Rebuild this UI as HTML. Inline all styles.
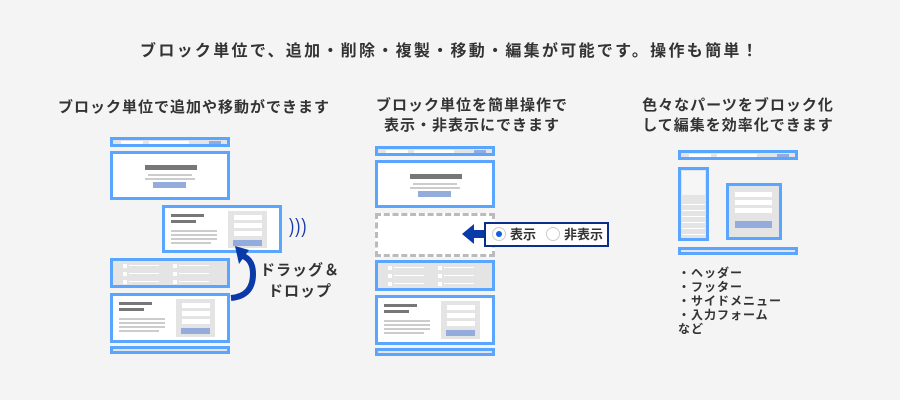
<!DOCTYPE html><html><head><meta charset="utf-8"><style>
*{margin:0;padding:0;box-sizing:border-box}
body{width:900px;height:400px;background:#f4f4f4;position:relative;overflow:hidden;font-family:"Liberation Sans","Noto Sans CJK JP",sans-serif;color:#333}
.a{position:absolute}
.t{font-weight:bold;font-size:15px;text-align:center;letter-spacing:1px}
.b{position:absolute;border:3px solid #5aa5ff;background:#fff}
.g{background:#e4e4e4}
.bar{position:absolute;height:3px;background:#ccc}
.dk{position:absolute;height:4px;background:#777}
.bl{position:absolute;background:#94acdc;height:6px}
.w{position:absolute;background:#fff;height:5px}
</style></head><body>
<div class="a t" style="left:0;width:900px;top:37px;font-size:16px;letter-spacing:2.3px">ブロック単位で、追加・削除・複製・移動・編集が可能です。操作も簡単！</div>
<div class="a t" style="left:44px;width:300px;top:96px">ブロック単位で追加や移動ができます</div>
<div class="a t" style="left:352px;width:240px;top:96px;line-height:20px">ブロック単位を簡単操作で<br>表示・非表示にできます</div>
<div class="a t" style="left:618px;width:240px;top:96px;line-height:20px">色々なパーツをブロック化<br>して編集を効率化できます</div>

<!-- left column -->
<div class="b g" style="left:110px;top:137px;width:120px;height:10px"><div class="w" style="left:8px;top:1px;width:22px;height:3px"></div><div class="w" style="left:36px;top:1px;width:40px;height:3px"></div><div class="bl" style="left:96px;top:1px;width:12px;height:3px"></div></div>
<div class="b" style="left:110px;top:151px;width:120px;height:49px"><div class="dk" style="left:32px;top:11px;width:52px;height:5px"></div><div class="bar" style="left:35px;top:20px;width:44px;height:2px"></div><div class="bar" style="left:32px;top:24px;width:50px;height:2px"></div><div class="bl" style="left:40px;top:28px;width:33px"></div></div>
<div class="b" style="left:162px;top:205px;width:120px;height:48px"><div class="dk" style="left:6px;top:6px;width:33px;height:3px"></div><div class="dk" style="left:6px;top:12px;width:25px;height:3px"></div><div class="bar" style="left:6px;top:22px;width:46px;height:2px"></div><div class="bar" style="left:6px;top:26px;width:46px;height:2px"></div><div class="bar" style="left:6px;top:30px;width:46px;height:2px"></div><div class="bar" style="left:6px;top:34px;width:40px;height:2px"></div><div class="a g" style="left:63px;top:3px;width:39px;height:37px"><div class="w" style="left:6px;top:4px;width:28px"></div><div class="w" style="left:6px;top:12px;width:28px"></div><div class="w" style="left:6px;top:20px;width:28px"></div><div class="bl" style="left:5px;top:29px;width:29px"></div></div></div>
<div class="a" style="left:289px;top:216px;font-size:20px;color:#1a3aa8;letter-spacing:1px;transform:scaleX(0.8);transform-origin:left">)))</div>
<div class="b g" style="left:110px;top:258px;width:120px;height:30px"><div class="a" style="left:10px;top:3px;width:4px;height:20px;background:repeating-linear-gradient(#fff 0 4px,transparent 4px 8px)"></div><div class="a" style="left:16px;top:4px;width:30px;height:18px;background:repeating-linear-gradient(#fff 0 1px,transparent 1px 8px)"></div><div class="a" style="left:60px;top:3px;width:4px;height:20px;background:repeating-linear-gradient(#fff 0 4px,transparent 4px 8px)"></div><div class="a" style="left:66px;top:4px;width:30px;height:18px;background:repeating-linear-gradient(#fff 0 1px,transparent 1px 8px)"></div></div>
<div class="b" style="left:110px;top:293px;width:120px;height:50px"><div class="dk" style="left:6px;top:6px;width:33px;height:3px"></div><div class="dk" style="left:6px;top:12px;width:25px;height:3px"></div><div class="bar" style="left:6px;top:22px;width:46px;height:2px"></div><div class="bar" style="left:6px;top:26px;width:46px;height:2px"></div><div class="bar" style="left:6px;top:30px;width:46px;height:2px"></div><div class="bar" style="left:6px;top:34px;width:40px;height:2px"></div><div class="a g" style="left:63px;top:3px;width:39px;height:38px"><div class="w" style="left:6px;top:4px;width:28px"></div><div class="w" style="left:6px;top:12px;width:28px"></div><div class="w" style="left:6px;top:20px;width:28px"></div><div class="bl" style="left:5px;top:29px;width:29px"></div></div></div>
<div class="b g" style="left:110px;top:346px;width:120px;height:8px"></div>
<svg class="a" style="left:225px;top:240px" width="50" height="70"><path d="M6 58 Q28 56 28 34 Q28 20 18 16" fill="none" stroke="#0a3aa8" stroke-width="6"/><polygon points="10,6 24,10 14,24" fill="#0a3aa8"/></svg>
<div class="a" style="left:258px;top:260px;font-weight:bold;font-size:15px;line-height:21px;text-align:center;width:84px;letter-spacing:1px">ドラッグ＆<br>ドロップ</div>

<!-- middle -->
<div class="b g" style="left:375px;top:146px;width:120px;height:10px"><div class="w" style="left:8px;top:1px;width:22px;height:3px"></div><div class="w" style="left:36px;top:1px;width:40px;height:3px"></div><div class="bl" style="left:96px;top:1px;width:12px;height:3px"></div></div>
<div class="b" style="left:375px;top:160px;width:120px;height:48px"><div class="dk" style="left:32px;top:11px;width:52px;height:5px"></div><div class="bar" style="left:35px;top:20px;width:44px;height:2px"></div><div class="bar" style="left:32px;top:24px;width:50px;height:2px"></div><div class="bl" style="left:40px;top:28px;width:33px"></div></div>
<div class="a" style="left:375px;top:213px;width:120px;height:44px;border:3px dashed #bbb;background:#fff"></div>
<div class="b g" style="left:375px;top:260px;width:120px;height:31px"><div class="a" style="left:10px;top:3px;width:4px;height:20px;background:repeating-linear-gradient(#fff 0 4px,transparent 4px 8px)"></div><div class="a" style="left:16px;top:4px;width:30px;height:18px;background:repeating-linear-gradient(#fff 0 1px,transparent 1px 8px)"></div><div class="a" style="left:60px;top:3px;width:4px;height:20px;background:repeating-linear-gradient(#fff 0 4px,transparent 4px 8px)"></div><div class="a" style="left:66px;top:4px;width:30px;height:18px;background:repeating-linear-gradient(#fff 0 1px,transparent 1px 8px)"></div></div>
<div class="b" style="left:375px;top:295px;width:120px;height:50px"><div class="dk" style="left:6px;top:6px;width:33px;height:3px"></div><div class="dk" style="left:6px;top:12px;width:25px;height:3px"></div><div class="bar" style="left:6px;top:22px;width:46px;height:2px"></div><div class="bar" style="left:6px;top:26px;width:46px;height:2px"></div><div class="bar" style="left:6px;top:30px;width:46px;height:2px"></div><div class="bar" style="left:6px;top:34px;width:40px;height:2px"></div><div class="a g" style="left:63px;top:3px;width:39px;height:38px"><div class="w" style="left:6px;top:4px;width:28px"></div><div class="w" style="left:6px;top:12px;width:28px"></div><div class="w" style="left:6px;top:20px;width:28px"></div><div class="bl" style="left:5px;top:29px;width:29px"></div></div></div>
<div class="b g" style="left:375px;top:348px;width:120px;height:8px"></div>
<svg class="a" style="left:460px;top:222px" width="30" height="24"><polygon points="2,12 14,2 14,8 28,8 28,16 14,16 14,22" fill="#0a3aa8"/></svg>
<div class="a" style="left:484px;top:222px;width:125px;height:25px;border:2px solid #0a2f8a;background:#fff;font-size:13px;font-weight:bold;line-height:21px">
<span class="a" style="left:6px;top:3px;width:14px;height:14px;border:1px solid #ccc;border-radius:50%"><span class="a" style="left:3px;top:3px;width:6px;height:6px;border-radius:50%;background:#1060e0"></span></span>
<span class="a" style="left:24px;top:0">表示</span>
<span class="a" style="left:60px;top:3px;width:14px;height:14px;border:1px solid #ccc;border-radius:50%"></span>
<span class="a" style="left:78px;top:0">非表示</span></div>

<!-- right -->
<div class="b g" style="left:678px;top:150px;width:120px;height:10px"><div class="w" style="left:8px;top:1px;width:22px;height:3px"></div><div class="w" style="left:36px;top:1px;width:40px;height:3px"></div><div class="bl" style="left:96px;top:1px;width:12px;height:3px"></div></div>
<div class="b g" style="left:678px;top:167px;width:31px;height:74px"><div class="a" style="left:1px;top:1px;width:23px;height:24px;background:#f6f6f6"></div><div class="a" style="left:1px;top:30px;width:23px;height:38px;background:repeating-linear-gradient(transparent 0 4px,#fff 4px 5px,transparent 5px 6px)"></div></div>
<div class="b g" style="left:726px;top:183px;width:56px;height:57px"><div class="w" style="left:6px;top:6px;width:37px"></div><div class="w" style="left:6px;top:14px;width:37px"></div><div class="w" style="left:6px;top:22px;width:37px"></div><div class="bl" style="left:6px;top:35px;width:37px;height:7px"></div></div>
<div class="b g" style="left:678px;top:247px;width:120px;height:8px"></div>
<div class="a" style="left:678px;top:266px;font-size:12px;font-weight:bold;line-height:14px;letter-spacing:1px">・ヘッダー<br>・フッター<br>・サイドメニュー<br>・入力フォーム<br>など</div>
</body></html>
